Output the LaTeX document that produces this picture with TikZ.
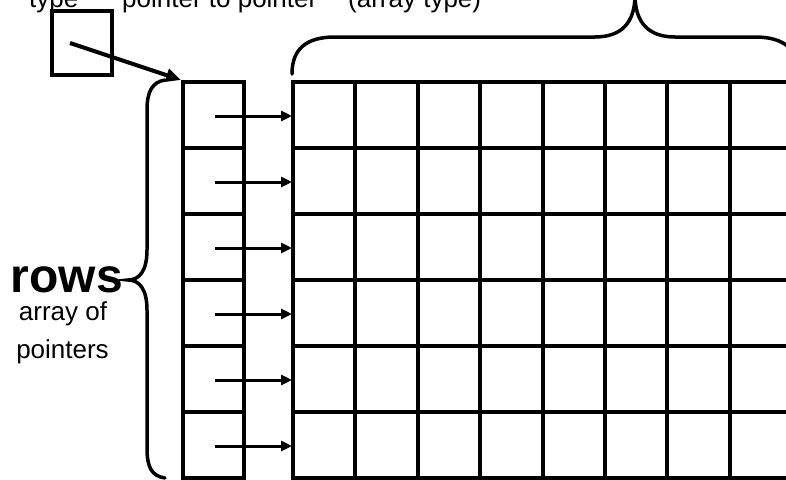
\documentclass[tikz,border=0pt]{standalone}
\usepackage{fontspec}
\setmainfont{Liberation Sans}
\usetikzlibrary{arrows.meta}
\begin{document}
\begin{tikzpicture}[x=1pt,y=-1pt,
  gridline/.style={line width=4pt, line cap=rect},
  ptr/.style={line width=3pt, -{Triangle[length=11pt,width=10pt]}},
  bigptr/.style={line width=4pt, -{Triangle[length=15pt,width=13pt]}},
  brace/.style={line width=3.5pt, line cap=round},
  lbl/.style={inner sep=0pt, font=\fontsize{26}{26}\selectfont}]
\useasboundingbox (0,0) rectangle (786,479);
\clip (0,0) rectangle (786,479);

% top label (cut off by the top edge)
\node[lbl, anchor=base west] (t1) at (29,7) {type**};
\node[lbl, anchor=base west] (t2) at (122,7) {pointer to pointer};
\node[lbl, anchor=base west] (t3) at (348,7) {(array type)};

% variable box
\node[draw, line width=4pt, minimum width=60pt, minimum height=64pt, inner sep=0pt] (var) at (82,43) {};
\coordinate (vstart) at (70,43);
\coordinate (arrtop) at (181,80);
\draw[bigptr] (vstart) -- (arrtop);

% array of pointers
\foreach \x in {183,244} \draw[gridline] (\x,82) -- (\x,478);
\foreach \r in {0,...,6} \draw[gridline] (183,{82+66*\r}) -- (244,{82+66*\r});

% data grid
\foreach \k in {0,...,8} \draw[gridline] ({293+62.4*\k},82) -- ({293+62.4*\k},478);
\foreach \r in {0,...,6} \draw[gridline] (293,{82+66*\r}) -- (800,{82+66*\r});

% row pointers
\foreach \r in {0,...,5} {
  \coordinate (p\r) at (215,{82+66*\r+34});
  \coordinate (c\r) at (292,{82+66*\r+34});
  \draw[ptr] (p\r) -- (c\r);
}

% left brace
\draw[brace] (165,80) .. controls (152,82) and (147,92) .. (147,110)
  -- (147,250) .. controls (147,270) and (140,280) .. (128,280)
  .. controls (140,280) and (147,290) .. (147,310)
  -- (147,448) .. controls (147,468) and (152,476) .. (165,478);

% top brace
\draw[brace] (292,74) .. controls (292,50) and (305,37) .. (335,37)
  -- (595,37) .. controls (622,37) and (635,22) .. (635,-5)
  .. controls (635,22) and (648,37) .. (675,37)
  -- (755,37) .. controls (785,37) and (798,50) .. (800,74);

% side labels
\node[inner sep=0pt, anchor=base, font=\fontsize{48}{48}\selectfont\bfseries] (rows) at (67,292) {rows};
\node[lbl, anchor=base] (arr) at (63,320) {array of};
\node[lbl, anchor=base] (ptrs) at (62.5,358) {pointers};
\end{tikzpicture}
\end{document}
